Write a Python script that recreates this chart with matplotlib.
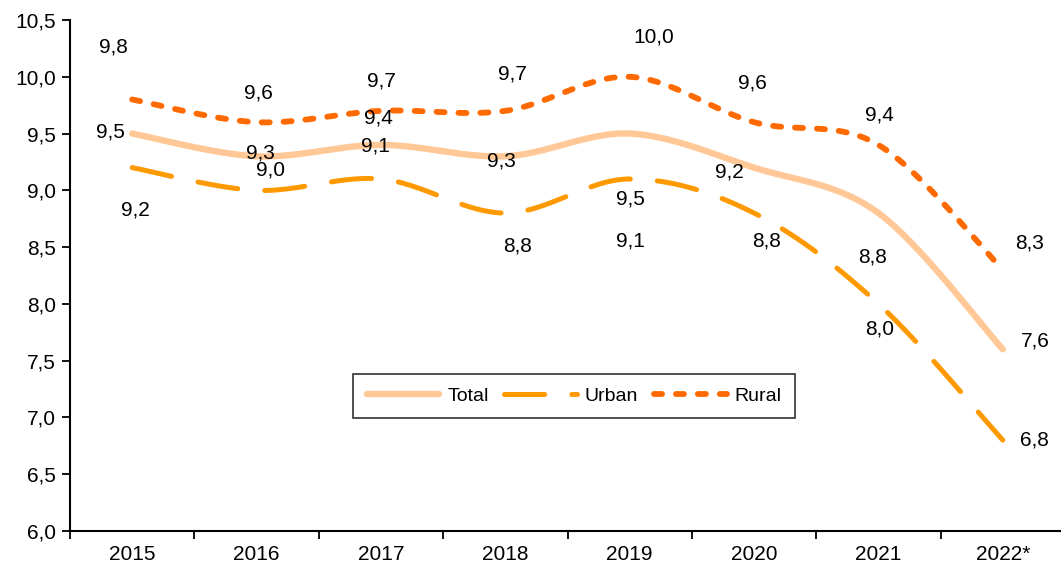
import numpy as np
import matplotlib
matplotlib.use("Agg")
import matplotlib.pyplot as plt

plt.rcParams['font.family'] = ['Liberation Sans', 'DejaVu Sans']
plt.rcParams['lines.scale_dashes'] = False

years = ['2015', '2016', '2017', '2018', '2019', '2020', '2021', '2022*']
total = [9.5, 9.3, 9.4, 9.3, 9.5, 9.2, 8.8, 7.6]
urban = [9.2, 9.0, 9.1, 8.8, 9.1, 8.8, 8.0, 6.8]
rural = [9.8, 9.6, 9.7, 9.7, 10.0, 9.6, 9.4, 8.3]

# label offsets in pixels (dx, dy with y up)
off_total = [(-22, 2), (4, 3), (-3, 27), (-4, -5), (1, -65), (-25, -4), (-6, -44), (32, 8)]
off_urban = [(3, -42), (14, 20), (-6, 33), (12, -33), (1, -62), (12, -28), (1, -25), (32, 0)]
off_rural = [(-19, 52), (2, 29), (0, 30), (7, 37), (24, 40), (-2, 39), (1, 30), (27, 27)]


def smooth(x, y, n=30):
    # excel-like smoothed line: cubic bezier with catmull-rom control points
    x = np.asarray(x, float)
    y = np.asarray(y, float)
    px = np.concatenate([[x[0]], x, [x[-1]]])
    py = np.concatenate([[y[0]], y, [y[-1]]])
    xs, ys = [], []
    t = np.linspace(0, 1, n)
    for i in range(1, len(x)):
        p0 = np.array([px[i], py[i]])
        p3 = np.array([px[i + 1], py[i + 1]])
        c1 = p0 + (np.array([px[i + 1], py[i + 1]]) - np.array([px[i - 1], py[i - 1]])) / 6
        c2 = p3 - (np.array([px[i + 2], py[i + 2]]) - np.array([px[i], py[i]])) / 6
        b = ((1 - t) ** 3)[:, None] * p0 + (3 * (1 - t) ** 2 * t)[:, None] * c1 \
            + (3 * (1 - t) * t ** 2)[:, None] * c2 + (t ** 3)[:, None] * p3
        xs.extend(b[:, 0])
        ys.extend(b[:, 1])
    return xs, ys


fig = plt.figure(figsize=(10.61, 5.64), dpi=100)
ax = fig.add_axes([70 / 1061, 1 - 531 / 564, 995 / 1061, 511 / 564])

x = np.arange(len(years))
styles = [
    ('Total', total, '#FFC896', 4.6, None, off_total),
    ('Urban', urban, '#FF9900', 3.6, (0, (29, 19.5)), off_urban),
    ('Rural', rural, '#FF6A00', 4.2, (0, (5.8, 10)), off_rural),
]
for name, vals, col, lw, ls, offs in styles:
    sx, sy = smooth(x, vals)
    kw = dict(color=col, lw=lw, solid_capstyle='round', dash_capstyle='round', label=name)
    if ls is not None:
        kw['linestyle'] = ls
    ax.plot(sx, sy, **kw)
    for i, v in enumerate(vals):
        dx, dy = offs[i]
        ax.annotate(f'{v:.1f}'.replace('.', ','), (x[i], v), xytext=(dx * 0.72, dy * 0.72),
                    textcoords='offset points', ha='center', va='center', fontsize=15)

ax.set_xlim(-0.5, len(years) - 0.5)
ax.set_ylim(6.0, 10.5)
ax.set_yticks(np.arange(6.0, 10.51, 0.5))
ax.set_yticklabels([f'{v:.1f}'.replace('.', ',') for v in np.arange(6.0, 10.51, 0.5)])
ax.set_xticks(x)
ax.set_xticklabels(years)
ax.set_xticks(np.arange(-0.5, len(years), 1), minor=True)
ax.tick_params(axis='x', which='major', length=0, pad=10, labelsize=15)
ax.tick_params(axis='x', which='minor', length=6, width=1.3, direction='out')
ax.tick_params(axis='y', length=6, width=1.3, direction='out', labelsize=15, pad=4)
for s in ['top', 'right']:
    ax.spines[s].set_visible(False)
for s in ['left', 'bottom']:
    ax.spines[s].set_linewidth(1.5)

leg = ax.legend(loc='center', bbox_to_anchor=((574 - 70) / 995, (531 - 396) / 511), ncol=3,
                frameon=True, fancybox=False, edgecolor='black', fontsize=14,
                handlelength=3.75, columnspacing=0.8, handletextpad=0.4, borderpad=0.7)
leg.get_frame().set_linewidth(1.2)

fig.savefig('out.png', dpi=100)
